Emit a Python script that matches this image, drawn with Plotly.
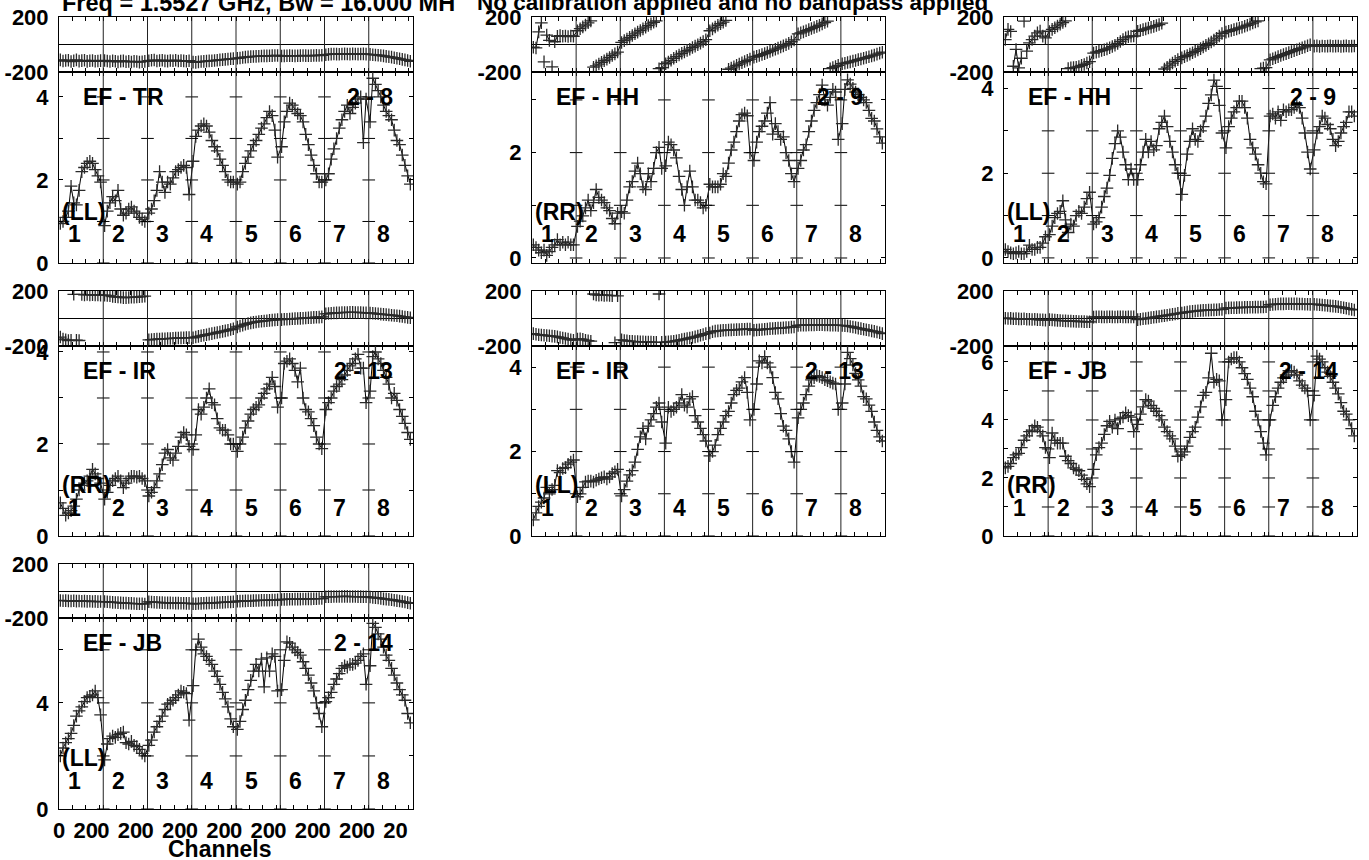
import plotly.graph_objects as go

W, H = 1369, 860

# ---------------- data (16 sampled channels per IF, 8 IFs per baseline) ----------------
CHANNELS = [1, 3, 5, 7, 9, 11, 13, 15, 17, 19, 21, 23, 25, 27, 29, 31]
IF_LABELS = ["1", "2", "3", "4", "5", "6", "7", "8"]
IF_SPAN = 33

AMP_TR_LL = [
    [0.95, 1.0, 1.1, 1.25, 1.85, 1.45, 1.4, 1.75, 2.2, 2.3, 2.4, 2.45, 2.4, 2.25, 2.1, 1.95],
    [0.9, 1.25, 1.45, 1.6, 1.5, 1.75, 1.3, 1.15, 1.2, 1.3, 1.35, 1.25, 1.2, 1.1, 1.05, 1.0],
    [1.2, 1.3, 1.5, 1.75, 2.2, 1.95, 1.7, 1.95, 1.9, 2.05, 2.2, 2.25, 2.3, 2.35, 2.3, 1.65],
    [2.45, 3.05, 3.2, 3.3, 3.35, 3.3, 3.15, 2.95, 2.8, 2.7, 2.5, 2.35, 2.2, 2.0, 1.95, 1.95],
    [1.9, 1.95, 2.2, 2.4, 2.55, 2.7, 2.85, 2.95, 3.1, 3.25, 3.35, 3.5, 3.65, 3.55, 3.2, 2.55],
    [2.8, 3.4, 3.65, 3.85, 3.8, 3.7, 3.6, 3.55, 3.4, 3.1, 2.85, 2.6, 2.35, 2.15, 1.95, 1.95],
    [2.0, 2.15, 2.5, 2.75, 3.0, 3.25, 3.45, 3.65, 3.8, 3.6, 3.75, 3.85, 3.95, 4.0, 2.9, 3.95],
    [3.4, 4.45, 4.3, 4.15, 4.0, 3.8, 3.65, 3.55, 3.45, 3.2, 2.95, 2.85, 2.6, 2.35, 2.1, 1.9],
]
PH_TR_LL = [
    [-112, -120, -116, -114, -124, -118, -112, -121, -117, -115, -123, -118, -116, -122, -120, -117],
    [-116, -120, -124, -118, -122, -126, -121, -119, -125, -123, -127, -122, -124, -128, -125, -123],
    [-118, -115, -113, -120, -116, -114, -119, -121, -116, -118, -114, -120, -117, -119, -122, -118],
    [-128, -130, -126, -124, -123, -121, -119, -118, -116, -114, -112, -110, -108, -106, -104, -103],
    [-100, -98, -94, -92, -90, -88, -87, -86, -85, -84, -83, -83, -82, -81, -80, -80],
    [-84, -83, -82, -81, -82, -83, -82, -81, -80, -81, -82, -81, -80, -79, -80, -78],
    [-74, -72, -70, -69, -70, -71, -69, -68, -69, -70, -68, -69, -70, -69, -68, -70],
    [-72, -74, -76, -78, -80, -83, -86, -89, -92, -96, -100, -104, -108, -112, -116, -122],
]

AMP_HH_RR = [
    [0.25, 0.2, 0.15, 0.1, 0.15, 0.05, 0.12, 0.2, 0.25, 0.35, 0.25, 0.3, 0.25, 0.3, 0.25, 0.25],
    [0.6, 0.7, 0.8, 0.95, 1.1, 0.9, 1.05, 1.3, 1.15, 1.1, 1.05, 0.95, 0.9, 0.75, 0.65, 0.85],
    [0.88, 0.85, 1.1, 1.35, 1.45, 1.65, 1.8, 1.6, 1.35, 1.3, 1.6, 1.45, 1.7, 2.0, 2.1, 1.7],
    [1.75, 2.2, 2.15, 2.05, 1.9, 1.55, 1.3, 1.0, 1.35, 1.65, 1.35, 1.1, 1.1, 1.05, 0.95, 1.0],
    [1.4, 1.35, 1.35, 1.35, 1.4, 1.6, 1.55, 1.8, 2.05, 2.2, 2.4, 2.6, 2.72, 2.75, 2.7, 2.0],
    [1.85, 2.2, 2.4, 2.5, 2.6, 2.75, 2.95, 2.35, 2.55, 2.4, 2.25, 2.3, 2.0, 1.85, 1.6, 1.45],
    [1.7, 1.85, 2.05, 2.15, 2.4, 2.6, 2.8, 2.95, 3.1, 3.28, 3.0, 2.9, 3.05, 3.2, 3.15, 2.25],
    [2.55, 3.2, 3.38, 3.3, 3.22, 3.15, 3.1, 3.05, 3.0, 2.95, 2.8, 2.65, 2.6, 2.45, 2.3, 2.18],
]
PH_HH_RR = [
    [-20, -25, 92, 158, -126, 68, 30, -162, 20, 60, 65, 60, 62, 58, 62, 60],
    [100, 115, 128, 142, 158, 172, -165, -155, -142, -130, -118, -106, -94, -80, -68, -55],
    [15, 28, 40, 52, 65, 78, 90, 102, 114, 126, 138, 150, 162, 172, -176, -168],
    [-140, -128, -115, -100, -88, -76, -64, -54, -44, -34, -22, -12, -2, 10, 22, 35],
    [100, 114, 127, 140, 152, 163, 175, -180, -172, -162, -152, -142, -133, -124, -115, -106],
    [-92, -86, -80, -73, -66, -58, -50, -42, -34, -26, -18, -10, -2, 8, 20, 34],
    [78, 85, 92, 100, 108, 116, 124, 132, 140, 150, 160, 170, -176, -168, -160, -152],
    [-140, -136, -131, -126, -121, -116, -110, -105, -100, -95, -89, -83, -77, -70, -63, -56],
]

AMP_HH_LL = [
    [0.2, 0.15, 0.12, 0.1, 0.12, 0.15, 0.1, 0.1, 0.15, 0.3, 0.2, 0.2, 0.25, 0.25, 0.35, 0.5],
    [0.55, 0.75, 0.95, 1.05, 1.1, 1.35, 0.9, 0.6, 0.8, 0.75, 1.0, 1.1, 1.05, 1.2, 1.4, 1.55],
    [0.8, 0.85, 0.95, 1.2, 1.45, 1.65, 1.95, 2.35, 2.7, 3.0, 2.85, 2.5, 2.2, 1.85, 2.1, 1.85],
    [1.85, 2.2, 2.5, 2.8, 2.5, 2.75, 2.55, 2.65, 3.05, 3.2, 3.35, 3.1, 2.75, 2.5, 2.2, 2.0],
    [1.5, 1.95, 2.45, 2.75, 3.05, 2.8, 2.75, 3.0, 3.1, 3.35, 3.65, 3.85, 4.2, 4.05, 3.6, 2.95],
    [2.6, 3.1, 3.3, 3.45, 3.55, 3.7, 3.7, 3.55, 3.3, 2.8, 2.6, 2.45, 2.2, 2.0, 1.8, 1.75],
    [3.35, 3.4, 3.3, 3.45, 3.25, 3.5, 3.45, 3.5, 3.5, 3.55, 3.6, 3.55, 3.3, 2.95, 2.5, 2.1],
    [2.55, 2.95, 3.1, 3.35, 3.3, 3.15, 3.05, 2.8, 2.65, 2.75, 2.95, 3.1, 3.2, 3.45, 3.45, 3.35],
]
PH_HH_LL = [
    [36, 110, 95, -158, -36, -170, -100, 170, -48, 12, 36, 61, 85, 97, 61, 48],
    [95, 110, 122, 135, 148, 160, 172, -175, -170, -168, -165, -160, -152, -145, -135, -125],
    [-62, -56, -50, -44, -38, -32, -24, -15, -5, 8, 22, 36, 48, 56, 60, 62],
    [96, 102, 108, 114, 120, 126, 132, 138, 145, 155, -178, -165, -150, -135, -122, -110],
    [-97, -88, -80, -70, -60, -50, -40, -30, -18, -6, 6, 18, 32, 46, 62, 80],
    [90, 96, 102, 108, 114, 120, 126, 133, 140, 148, 156, 164, 172, -176, -172, -168],
    [-112, -104, -96, -88, -80, -73, -66, -59, -52, -45, -38, -31, -24, -17, -9, -2],
    [-12, -10, -14, -11, -13, -12, -10, -13, -12, -11, -14, -12, -10, -13, -12, -11],
]

AMP_IR_RR = [
    [0.72, 0.6, 0.45, 0.5, 0.55, 0.65, 0.8, 1.0, 1.1, 1.15, 1.2, 1.3, 1.45, 1.35, 1.25, 1.15],
    [0.8, 0.95, 1.1, 1.2, 1.25, 1.3, 1.2, 1.05, 1.15, 1.25, 1.3, 1.3, 1.28, 1.3, 1.25, 1.2],
    [0.87, 0.95, 1.05, 1.2, 1.35, 1.55, 1.8, 1.88, 1.7, 1.65, 1.8, 1.95, 2.15, 2.25, 2.2, 1.95],
    [1.88, 2.2, 2.75, 2.65, 2.8, 3.0, 3.2, 2.9, 2.85, 2.55, 2.35, 2.3, 2.3, 2.2, 2.0, 2.0],
    [1.84, 2.0, 2.15, 2.35, 2.5, 2.65, 2.75, 2.8, 2.85, 3.0, 3.1, 3.2, 3.3, 3.45, 3.25, 2.8],
    [3.0, 3.75, 3.8, 3.85, 3.75, 3.6, 3.35, 3.65, 3.0, 2.75, 2.7, 2.55, 2.4, 2.15, 2.0, 1.9],
    [2.75, 2.9, 3.0, 3.15, 3.25, 3.3, 3.4, 3.5, 3.6, 3.7, 3.75, 3.85, 3.95, 3.65, 3.65, 2.9],
    [3.15, 3.9, 4.0, 3.85, 3.75, 3.6, 3.45, 3.3, 3.0, 3.1, 2.95, 2.75, 2.6, 2.45, 2.25, 2.1],
]
PH_IR_RR = [
    [-135, -150, -155, -160, -158, 176, -158, -160, 175, 172, 174, 172, 173, 171, 172, 170],
    [170, 168, 165, 160, 158, 156, 154, 152, 152, 153, 154, 155, 156, 158, 160, 162],
    [-155, -153, -152, -150, -149, -148, -147, -146, -145, -144, -143, -142, -141, -140, -139, -139],
    [-140, -135, -130, -126, -122, -118, -114, -110, -106, -102, -98, -94, -90, -85, -80, -75],
    [-62, -55, -48, -42, -36, -32, -28, -25, -22, -20, -18, -16, -14, -12, -10, -8],
    [-8, -6, -5, -4, -2, -1, 0, 1, 2, 4, 5, 6, 8, 9, 10, 12],
    [34, 36, 38, 40, 41, 42, 43, 44, 44, 45, 45, 44, 44, 43, 42, 41],
    [40, 38, 36, 34, 32, 30, 28, 26, 24, 22, 20, 17, 14, 11, 8, 5],
]

AMP_IR_LL = [
    [0.38, 0.55, 0.7, 0.8, 0.9, 1.15, 1.0, 1.1, 1.2, 1.55, 1.5, 1.6, 1.62, 1.7, 1.75, 1.8],
    [0.93, 1.0, 1.15, 1.28, 1.3, 1.3, 1.28, 1.32, 1.35, 1.38, 1.4, 1.35, 1.4, 1.48, 1.52, 1.58],
    [0.95, 1.1, 1.3, 1.45, 1.55, 1.75, 2.05, 2.35, 2.55, 2.3, 2.6, 2.75, 2.9, 3.05, 3.15, 2.7],
    [2.2, 3.05, 2.95, 3.0, 3.05, 3.15, 3.35, 3.1, 3.05, 3.25, 3.3, 2.85, 2.7, 2.55, 2.4, 2.25],
    [1.9, 2.0, 2.15, 2.4, 2.55, 2.7, 2.85, 2.95, 3.15, 3.35, 3.45, 3.5, 3.65, 3.75, 3.4, 2.75],
    [3.0, 3.6, 4.15, 4.1, 4.25, 4.1, 4.0, 3.75, 3.4, 3.25, 2.9, 2.6, 2.5, 2.3, 2.0, 1.75],
    [2.8, 3.0, 3.15, 3.35, 3.55, 3.7, 3.75, 3.8, 3.78, 3.75, 3.7, 3.68, 3.65, 3.62, 3.6, 3.0],
    [3.15, 3.6, 4.35, 4.2, 4.05, 3.85, 3.7, 3.55, 3.3, 3.25, 3.1, 2.95, 2.7, 2.5, 2.35, 2.25],
]
PH_IR_LL = [
    [-110, -115, -118, -120, -122, -124, -126, -128, -130, -134, -138, -142, -146, -150, -155, -158],
    [-150, -148, -152, -158, -162, -165, 178, 172, 170, 172, 168, 170, 168, 166, -176, 165],
    [-155, -160, -162, -165, -166, -168, -168, -170, -170, -171, -172, -172, -173, -173, 178, -174],
    [-172, -170, -168, -165, -162, -158, -154, -150, -146, -142, -138, -134, -128, -122, -116, -110],
    [-105, -96, -92, -90, -88, -86, -85, -84, -83, -82, -81, -80, -79, -78, -77, -76],
    [-86, -84, -82, -80, -78, -76, -74, -73, -72, -70, -69, -68, -66, -65, -63, -62],
    [-50, -49, -48, -48, -47, -47, -47, -46, -46, -46, -47, -47, -48, -48, -49, -50],
    [-50, -52, -55, -58, -62, -66, -70, -74, -78, -82, -86, -90, -94, -98, -104, -110],
]

AMP_JB_RR = [
    [2.35, 2.4, 2.5, 2.7, 2.8, 2.85, 3.05, 3.3, 3.45, 3.6, 3.65, 3.8, 3.75, 3.6, 3.45, 3.05],
    [2.7, 3.55, 3.3, 3.2, 3.2, 3.2, 2.75, 2.6, 2.5, 2.35, 2.3, 2.25, 2.1, 1.95, 1.8, 1.7],
    [2.3, 2.8, 3.05, 3.2, 3.5, 3.8, 3.95, 3.75, 4.0, 3.7, 4.05, 4.1, 4.25, 4.15, 4.1, 3.6],
    [3.85, 4.2, 4.45, 4.7, 4.65, 4.5, 4.4, 4.3, 4.15, 4.0, 3.75, 3.6, 3.45, 3.35, 3.1, 2.75],
    [2.8, 2.9, 3.1, 3.4, 3.6, 3.75, 4.1, 4.45, 4.85, 4.95, 5.45, 6.3, 5.3, 5.4, 5.35, 4.0],
    [4.7, 6.0, 6.1, 6.15, 6.15, 6.0, 5.8, 5.6, 5.4, 5.1, 4.8, 4.3, 4.0, 3.6, 3.2, 2.8],
    [4.0, 4.5, 4.8, 5.1, 5.3, 5.45, 5.55, 5.7, 5.7, 5.65, 5.55, 5.35, 5.2, 5.1, 5.0, 4.0],
    [4.85, 6.2, 6.1, 6.0, 5.8, 5.65, 5.5, 5.3, 5.1, 4.9, 4.6, 4.3, 4.2, 4.0, 3.7, 3.45],
]
PH_JB_RR = [
    [2, 0, 1, -2, -1, -3, -4, -2, -5, -6, -7, -6, -8, -9, -10, -12],
    [-8, -10, -12, -14, -15, -16, -17, -18, -19, -20, -21, -22, -22, -23, -24, -24],
    [10, 12, 13, 12, 11, 12, 13, 12, 11, 12, 13, 12, 11, 12, 12, 12],
    [-8, -5, -2, 0, 3, 6, 9, 12, 15, 18, 21, 24, 27, 30, 33, 37],
    [40, 44, 47, 50, 52, 54, 56, 58, 59, 60, 61, 62, 63, 64, 65, 66],
    [76, 77, 78, 78, 79, 80, 80, 81, 81, 82, 82, 83, 83, 84, 84, 85],
    [100, 102, 104, 105, 106, 106, 107, 107, 107, 106, 106, 105, 105, 104, 104, 103],
    [104, 102, 100, 98, 96, 94, 92, 90, 88, 85, 82, 78, 74, 70, 66, 62],
]

AMP_JB_LL = [
    [2.0, 2.3, 2.5, 2.65, 2.85, 3.15, 3.5, 3.7, 3.85, 4.05, 4.2, 4.25, 4.3, 4.45, 4.2, 3.55],
    [1.85, 2.45, 2.65, 2.75, 2.7, 2.8, 2.85, 2.9, 2.5, 2.45, 2.55, 2.4, 2.35, 2.25, 2.1, 2.0],
    [2.4, 2.6, 2.9, 3.1, 3.3, 3.5, 3.75, 3.95, 4.0, 4.1, 4.2, 4.3, 4.45, 4.4, 4.35, 3.35],
    [4.65, 6.0, 6.4, 6.1, 5.85, 5.75, 5.6, 5.45, 5.2, 5.0, 4.7, 4.4, 4.15, 3.85, 3.4, 3.1],
    [3.0, 3.3, 3.75, 4.1, 4.5, 4.85, 5.2, 5.45, 5.2, 5.65, 4.6, 5.7, 5.2, 5.85, 5.75, 4.45],
    [4.5, 5.6, 6.3, 6.25, 6.1, 6.0, 5.9, 5.8, 5.55, 5.3, 5.05, 4.75, 4.45, 4.0, 3.6, 3.1],
    [4.05, 4.2, 4.4, 4.7, 4.9, 5.1, 5.3, 5.4, 5.35, 5.45, 5.45, 5.5, 5.6, 5.75, 5.85, 4.7],
    [5.4, 7.0, 6.85, 6.6, 6.4, 6.1, 5.8, 5.6, 5.3, 5.05, 4.75, 4.5, 4.3, 4.1, 3.6, 3.25],
]
PH_JB_LL = [
    [-70, -72, -71, -73, -74, -72, -75, -74, -76, -75, -77, -76, -78, -77, -79, -78],
    [-78, -80, -82, -84, -85, -86, -88, -89, -90, -91, -92, -93, -94, -94, -95, -96],
    [-80, -82, -83, -84, -85, -86, -87, -88, -88, -89, -90, -90, -91, -91, -92, -92],
    [-95, -94, -93, -92, -91, -90, -89, -88, -87, -86, -85, -84, -83, -82, -81, -80],
    [-76, -75, -74, -73, -72, -72, -71, -70, -70, -69, -69, -68, -68, -67, -67, -66],
    [-63, -62, -62, -61, -61, -60, -60, -60, -59, -59, -58, -58, -57, -57, -56, -56],
    [-43, -42, -42, -41, -41, -41, -40, -40, -40, -41, -41, -41, -42, -42, -43, -43],
    [-45, -48, -50, -52, -55, -58, -60, -62, -65, -68, -71, -74, -78, -82, -86, -91],
]

PANELS = [
    dict(name="EF - TR", base="2 - 8", pol="(LL)", row=0, col=0, amp=AMP_TR_LL, ph=PH_TR_LL,
         yr=[0, 4.6], ticks=[0, 1, 2, 3, 4], labels=[0, 2, 4], boff=286),
    dict(name="EF - HH", base="2 - 9", pol="(RR)", row=0, col=1, amp=AMP_HH_RR, ph=PH_HH_RR,
         yr=[-0.095, 3.53], ticks=[0, 1, 2, 3], labels=[0, 2], boff=283),
    dict(name="EF - HH", base="2 - 9", pol="(LL)", row=0, col=2, amp=AMP_HH_LL, ph=PH_HH_LL,
         yr=[-0.12, 4.39], ticks=[0, 1, 2, 3, 4], labels=[0, 2, 4], boff=284),
    dict(name="EF - IR", base="2 - 13", pol="(RR)", row=1, col=0, amp=AMP_IR_RR, ph=PH_IR_RR,
         yr=[0, 4.13], ticks=[0, 1, 2, 3, 4], labels=[0, 2, 4], boff=273),
    dict(name="EF - IR", base="2 - 13", pol="(LL)", row=1, col=1, amp=AMP_IR_LL, ph=PH_IR_LL,
         yr=[0, 4.5], ticks=[0, 1, 2, 3, 4], labels=[0, 2, 4], boff=271),
    dict(name="EF - JB", base="2 - 14", pol="(RR)", row=1, col=2, amp=AMP_JB_RR, ph=PH_JB_RR,
         yr=[0, 6.55], ticks=[0, 1, 2, 3, 4, 5, 6], labels=[0, 2, 4, 6], boff=273),
    dict(name="EF - JB", base="2 - 14", pol="(LL)", row=2, col=0, amp=AMP_JB_LL, ph=PH_JB_LL,
         yr=[0, 7.2], ticks=[0, 2, 4, 6], labels=[0, 4], boff=273),
]

# ---------------- layout geometry (pixels) ----------------
COLS = [(59, 413), (532, 885), (1004, 1357)]
ROWS = [(17, 72, 263), (291, 346, 536), (564, 618, 809)]  # phase top, phase/amp split, amp bottom

FONT = "Liberation Sans, Arial, sans-serif"
TICKFONT = dict(size=22, family=FONT, weight="bold", color="black")


def px_x(x):
    return x / W


def px_y(y):
    return 1 - y / H


def aid(n):
    return "" if n == 1 else str(n)


fig = go.Figure()
layout = dict(
    template="none",
    width=W, height=H, autosize=False, margin=dict(l=0, r=0, t=0, b=0, pad=0),
    paper_bgcolor="white", plot_bgcolor="white", showlegend=False,
    font=dict(family=FONT, color="black", size=22, weight="bold"),
)
shapes, annotations = [], []

n_if = len(IF_LABELS)
xmax = n_if * IF_SPAN
xticks, xtext = [], []
for i in range(n_if):
    for c in (0, 10, 20, 30):
        xticks.append(i * IF_SPAN + c)
        xtext.append({0: "0", 20: "20"}.get(c, ""))

mk = dict(symbol="cross-thin", size=9, line=dict(width=1.3, color="#2a2a2a"), color="#2a2a2a")

for k, p in enumerate(PANELS):
    L, R = COLS[p["col"]]
    T, M, B = ROWS[p["row"]]
    ph_n, am_n = 2 * k + 1, 2 * k + 2
    xs = [i * IF_SPAN + c for i in range(n_if) for c in CHANNELS]

    # phase trace with breaks at wraps
    phx, phy = [], []
    prev = None
    for x, v in zip(xs, [v for row in p["ph"] for v in row]):
        if prev is not None and abs(v - prev) > 150:
            phx.append(None)
            phy.append(None)
        phx.append(x)
        phy.append(v)
        prev = v
    fig.add_trace(go.Scatter(x=phx, y=phy, mode="lines+markers", xaxis="x" + aid(ph_n),
                             yaxis="y" + aid(ph_n), line=dict(color="black", width=1),
                             marker=mk, hoverinfo="skip"))
    amps = [v for row in p["amp"] for v in row]
    fig.add_trace(go.Scatter(x=xs, y=amps, mode="lines+markers", xaxis="x" + aid(am_n),
                             yaxis="y" + aid(am_n), line=dict(color="black", width=1),
                             marker=mk, hoverinfo="skip"))
    # internal IF-boundary tick marks
    bx = [i * IF_SPAN for i in range(1, n_if) for _ in p["ticks"]]
    by = [t for i in range(1, n_if) for t in p["ticks"]]
    fig.add_trace(go.Scatter(x=bx, y=by, mode="markers", xaxis="x" + aid(am_n), yaxis="y" + aid(am_n),
                             marker=dict(symbol="line-ew", size=9, line=dict(width=1, color="black")),
                             hoverinfo="skip", cliponaxis=False))

    common_x = dict(range=[0, xmax], domain=[px_x(L), px_x(R)], tickvals=xticks, ticks="inside",
                    ticklen=4, tickcolor="black", showline=True, linecolor="black", linewidth=1,
                    mirror="ticks", showgrid=False, zeroline=False, automargin=False, tickangle=0)
    layout["xaxis" + aid(ph_n)] = dict(common_x, anchor="y" + aid(ph_n), showticklabels=False)
    bottom = p["row"] == 2
    layout["xaxis" + aid(am_n)] = dict(common_x, anchor="y" + aid(am_n), showticklabels=bottom,
                                       ticktext=xtext, ticklabelstandoff=2, tickfont=TICKFONT)
    layout["yaxis" + aid(ph_n)] = dict(range=[-200, 200], domain=[px_y(M), px_y(T)], anchor="x" + aid(ph_n),
                                       tickvals=[-200, 200], ticktext=["-200", "200"], ticks="",
                                       showline=True, linecolor="black", linewidth=1, mirror=True,
                                       showgrid=False, zeroline=True, zerolinecolor="black",
                                       zerolinewidth=1, ticklabelstandoff=5, tickfont=TICKFONT,
                                       automargin=False)
    layout["yaxis" + aid(am_n)] = dict(range=p["yr"], domain=[px_y(B), px_y(M)], anchor="x" + aid(am_n),
                                       tickvals=p["ticks"],
                                       ticktext=[str(t) if t in p["labels"] else "" for t in p["ticks"]],
                                       ticks="inside", ticklen=4, tickcolor="black", showline=True,
                                       linecolor="black", linewidth=1, mirror="ticks", showgrid=False,
                                       zeroline=False, ticklabelstandoff=5, tickfont=TICKFONT,
                                       automargin=False)
    for i in range(1, n_if):
        shapes.append(dict(type="line", xref="x" + aid(am_n), yref="paper", x0=i * IF_SPAN,
                           x1=i * IF_SPAN, y0=px_y(B), y1=px_y(T), line=dict(color="#222", width=1)))
    # labels
    annotations.append(dict(text=p["name"], x=px_x(L + 22), y=px_y(M + 25), xanchor="left",
                            yanchor="middle", font=dict(size=23)))
    annotations.append(dict(text=p["base"], x=px_x(L + p["boff"]), y=px_y(M + 25), xanchor="left",
                            yanchor="middle", font=dict(size=23)))
    annotations.append(dict(text=p["pol"], x=px_x(L + 1), y=px_y(B - 51), xanchor="left",
                            yanchor="middle", font=dict(size=23)))
    ifw = (R - L) / n_if
    for i, lab in enumerate(IF_LABELS):
        annotations.append(dict(text=lab, x=px_x(L + i * ifw + 15), y=px_y(B - 28.5), xanchor="center",
                                yanchor="middle", font=dict(size=23)))

annotations.append(dict(text="Freq = 1.5527 GHz, Bw = 16.000 MH", x=px_x(60), y=px_y(3),
                        xanchor="left", yanchor="middle", font=dict(size=23.5)))
annotations.append(dict(text="No calibration applied and no bandpass applied", x=px_x(475), y=px_y(3),
                        xanchor="left", yanchor="middle", font=dict(size=22.5)))
annotations.append(dict(text="Channels", x=px_x(220), y=px_y(849), xanchor="center",
                        yanchor="middle", font=dict(size=23)))

for a in annotations:
    a.update(xref="paper", yref="paper", showarrow=False)
layout["shapes"] = shapes
layout["annotations"] = annotations
fig.update_layout(**layout)
fig.write_html("out.html", config={"displayModeBar": False},
               post_script="document.body.style.margin='0';document.body.style.overflow='hidden';")
